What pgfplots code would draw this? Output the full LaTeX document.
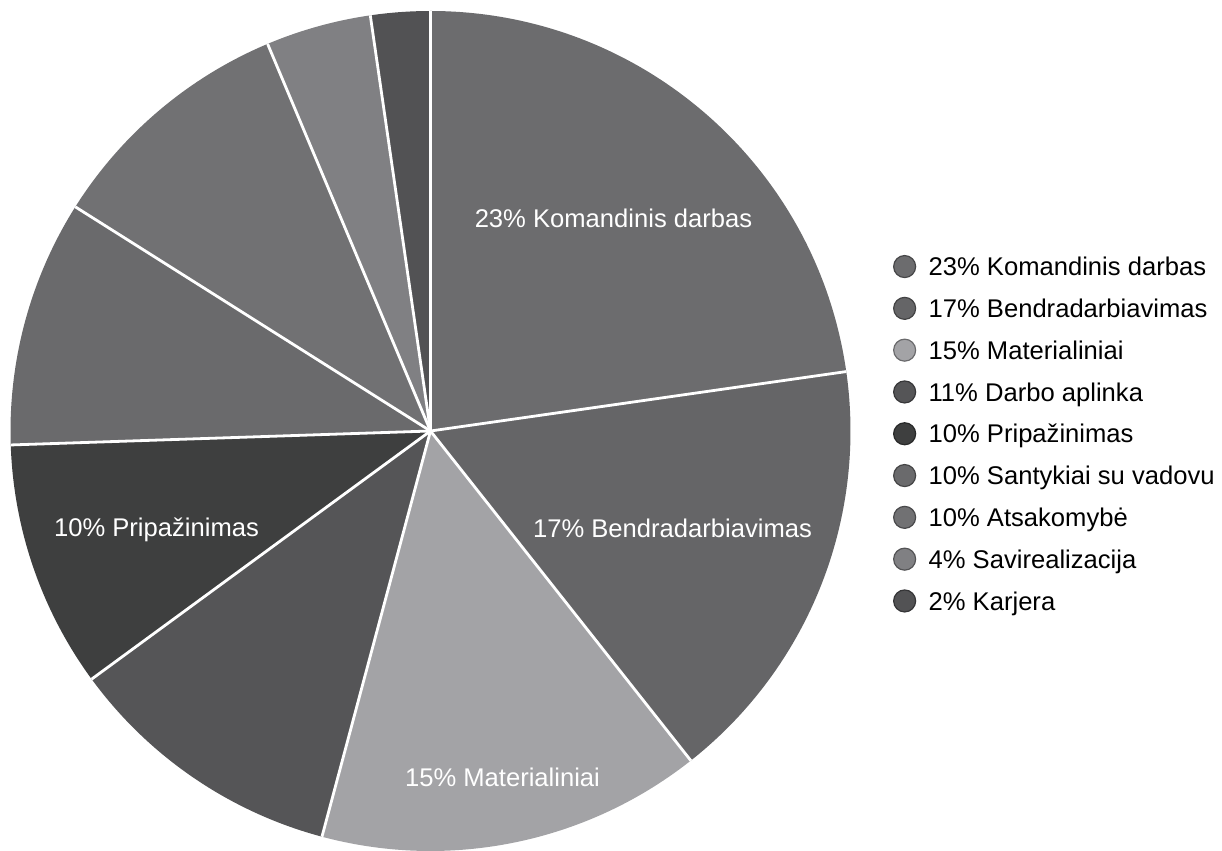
\documentclass[border=0pt]{standalone}
\usepackage{pgfplots}
\pgfplotsset{compat=1.18}
\usepackage{pgfplotstable}
\usepackage{fontspec}
\setmainfont{Liberation Sans}

\definecolor{c1}{HTML}{6C6C6E}
\definecolor{c2}{HTML}{656567}
\definecolor{c3}{HTML}{A3A3A6}
\definecolor{c4}{HTML}{555557}
\definecolor{c5}{HTML}{3E3F3F}
\definecolor{c6}{HTML}{6A6A6C}
\definecolor{c7}{HTML}{717173}
\definecolor{c8}{HTML}{808083}
\definecolor{c9}{HTML}{525254}

% share of each slice (percent of the full circle), clockwise from the top
\pgfplotstableread{
value color
22.74 c1
16.62 c2
14.80 c3
10.78 c4
9.53  c5
9.49  c6
9.70  c7
4.05  c8
2.29  c9
}\piedata

\newcommand\lblfont{\fontsize{12.8}{15}\selectfont}

\begin{document}
\begin{tikzpicture}
\path[use as bounding box] (0,0) rectangle (611pt,425.5pt);
\begin{axis}[
  at={(0,0)}, anchor=south west,
  x=0.5pt, y=0.5pt,
  xmin=0, xmax=1222, ymin=0, ymax=851,
  hide axis,
  clip=false,
  legend style={at={(0.7308,0.7004)}, anchor=north west, draw=none, fill=none,
    inner sep=0pt, outer sep=0pt, row sep=9.3pt, column sep=6.2pt,
    font=\lblfont, nodes={inner sep=0pt, text height=9.2pt, text depth=0pt}},
  legend cell align=left,
  legend image code/.code={\filldraw[#1] (5.5pt,0pt) circle[radius=5.5pt];},
]
\pgfplotstablegetrowsof{\piedata}
\pgfmathtruncatemacro\nrows{\pgfplotsretval-1}
% slices
\def\angA{90}
\pgfplotsforeachungrouped \i in {0,...,\nrows}{%
  \pgfplotstablegetelem{\i}{value}\of\piedata
  \pgfmathsetmacro\angB{\angA-3.6*\pgfplotsretval}%
  \pgfplotstablegetelem{\i}{color}\of\piedata
  \let\col\pgfplotsretval
  \pgfmathsetmacro\px{430.5+420*cos(\angA)}%
  \pgfmathsetmacro\py{420+420*sin(\angA)}%
  \edef\temp{\noexpand\fill[\col] (axis cs:430.5,420) -- (axis cs:\px,\py) arc[start angle=\angA, end angle=\angB, radius=210pt] -- cycle;}%
  \temp
  \let\angA\angB
}
% white separators
\def\angA{90}
\pgfplotsforeachungrouped \i in {0,...,\nrows}{%
  \pgfplotstablegetelem{\i}{value}\of\piedata
  \pgfmathsetmacro\angB{\angA-3.6*\pgfplotsretval}%
  \pgfmathsetmacro\px{430.5+420*cos(\angA)}%
  \pgfmathsetmacro\py{420+420*sin(\angA)}%
  \edef\temp{\noexpand\draw[white, line width=1.4pt] (axis cs:430.5,420) -- (axis cs:\px,\py);}%
  \temp
  \let\angA\angB
}
% slice labels
\node[white, font=\lblfont, inner sep=0pt, anchor=base] at (axis cs:613.5,623) {23\% Komandinis darbas};
\node[white, font=\lblfont, inner sep=0pt, anchor=base] at (axis cs:672.5,313.5) {17\% Bendradarbiavimas};
\node[white, font=\lblfont, inner sep=0pt, anchor=base] at (axis cs:502.5,64) {15\% Materialiniai};
\node[white, font=\lblfont, inner sep=0pt, anchor=base] at (axis cs:156.5,314) {10\% Pripažinimas};
% legend
\addlegendimage{fill=c1, draw=c1!65!black, line width=0.6pt}\addlegendentry{23\% Komandinis darbas}
\addlegendimage{fill=c2, draw=c2!65!black, line width=0.6pt}\addlegendentry{17\% Bendradarbiavimas}
\addlegendimage{fill=c3, draw=c3!65!black, line width=0.6pt}\addlegendentry{15\% Materialiniai}
\addlegendimage{fill=c4, draw=c4!65!black, line width=0.6pt}\addlegendentry{11\% Darbo aplinka}
\addlegendimage{fill=c5, draw=c5!65!black, line width=0.6pt}\addlegendentry{10\% Pripažinimas}
\addlegendimage{fill=c6, draw=c6!65!black, line width=0.6pt}\addlegendentry{10\% Santykiai su vadovu}
\addlegendimage{fill=c7, draw=c7!65!black, line width=0.6pt}\addlegendentry{10\% Atsakomybė}
\addlegendimage{fill=c8, draw=c8!65!black, line width=0.6pt}\addlegendentry{4\% Savirealizacija}
\addlegendimage{fill=c9, draw=c9!65!black, line width=0.6pt}\addlegendentry{2\% Karjera}
\end{axis}
\end{tikzpicture}
\end{document}
